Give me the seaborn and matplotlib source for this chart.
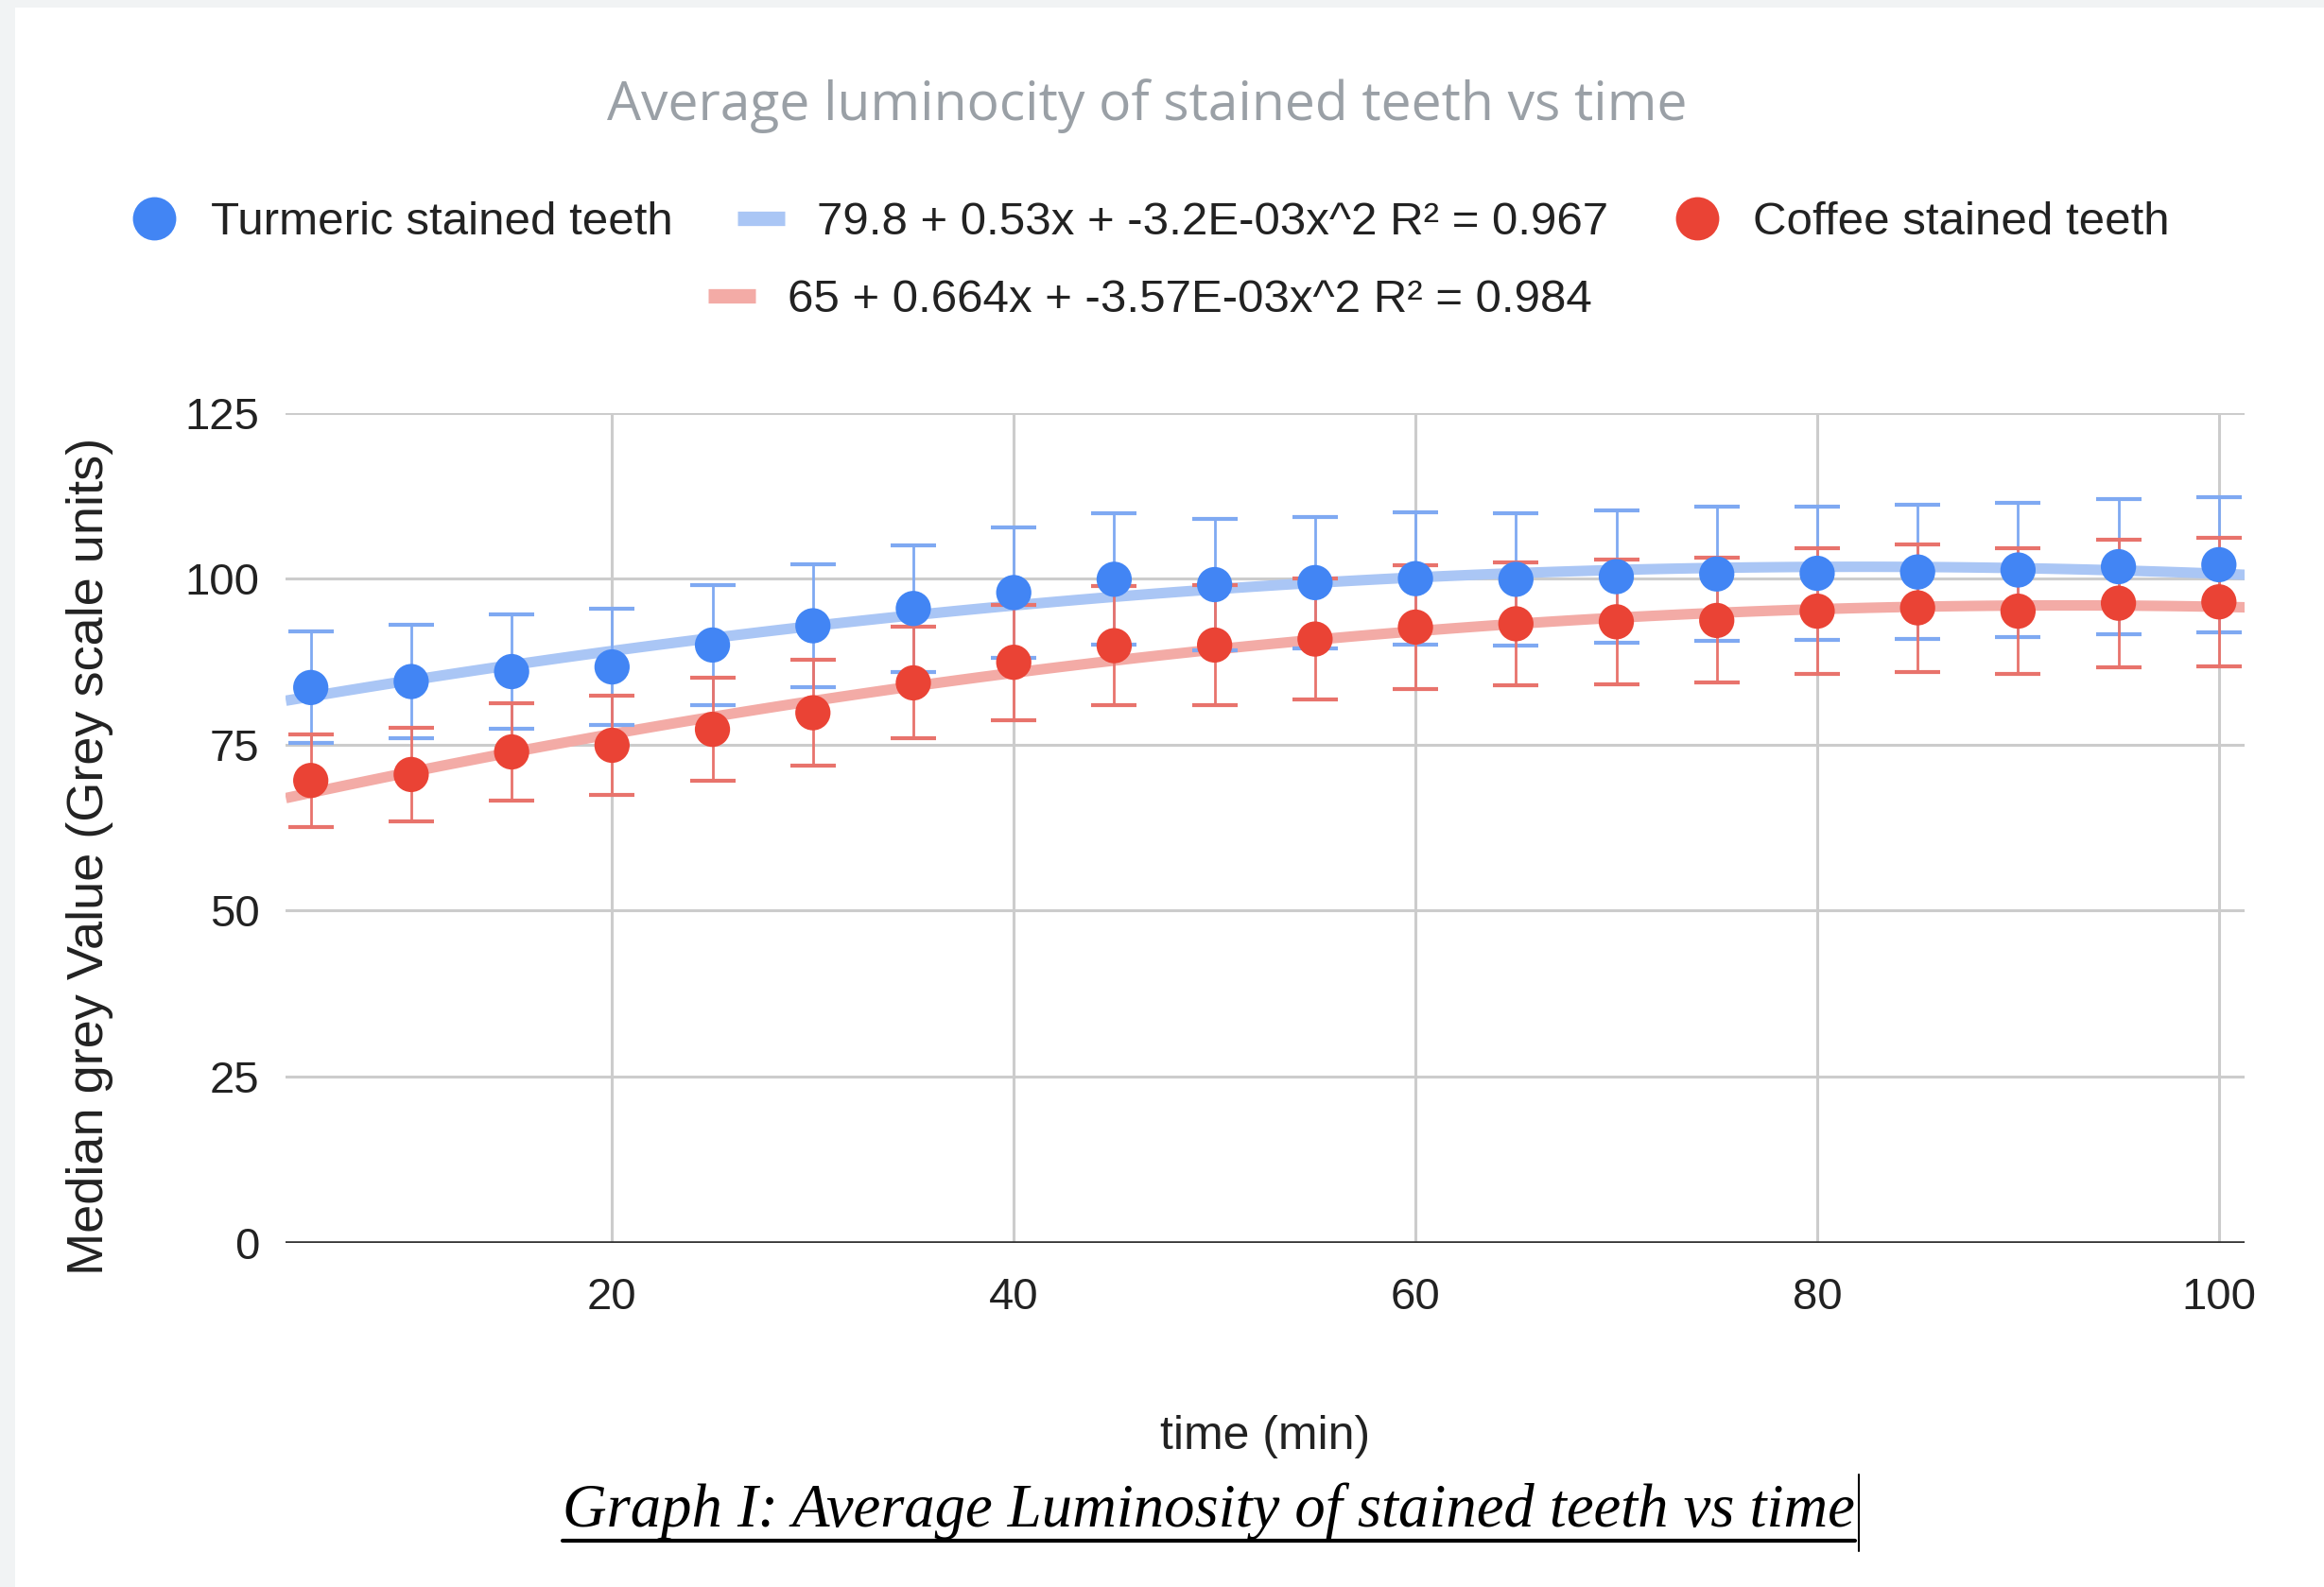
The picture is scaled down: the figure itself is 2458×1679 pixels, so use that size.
import numpy as np
import matplotlib
matplotlib.use("Agg")
import matplotlib.pyplot as plt
import seaborn as sns
from matplotlib.lines import Line2D
from matplotlib.patches import Rectangle

# --- data ---
time_min = [5, 10, 15, 20, 25, 30, 35, 40, 45, 50, 55, 60, 65, 70, 75, 80, 85, 90, 95, 100]
turmeric = [83.6, 84.5, 86.0, 86.7, 90.0, 92.9, 95.5, 97.9, 99.9, 99.1,
            99.4, 100.0, 99.9, 100.3, 100.7, 100.8, 101.0, 101.3, 101.8, 102.1]
coffee = [69.6, 70.5, 73.9, 74.9, 77.3, 79.8, 84.3, 87.4, 89.9, 90.0,
          90.9, 92.7, 93.2, 93.5, 93.7, 95.1, 95.6, 95.1, 96.3, 96.5]
turmeric_err = [8.4, 8.5, 8.6, 8.7, 9.0, 9.3, 9.5, 9.8, 9.9, 9.9,
                9.9, 10.0, 10.0, 10.0, 10.1, 10.1, 10.1, 10.1, 10.2, 10.2]
coffee_err = [7.0, 7.1, 7.4, 7.5, 7.8, 8.0, 8.4, 8.7, 9.0, 9.0,
              9.1, 9.3, 9.3, 9.4, 9.4, 9.5, 9.6, 9.5, 9.6, 9.7]

x_ticks = [20, 40, 60, 80, 100]
y_ticks = [0, 25, 50, 75, 100, 125]

title = "Average luminocity of stained teeth vs time"
labels = ["Turmeric stained teeth",
          "79.8 + 0.53x + -3.2E-03x^2 R² = 0.967",
          "Coffee stained teeth",
          "65 + 0.664x + -3.57E-03x^2 R² = 0.984"]
caption = "Graph I: Average Luminosity of stained teeth vs time"

# --- colours ---
BLUE = "#4285F4"
RED = "#EA4335"
BLUE_TREND = "#AAC6F5"
RED_TREND = "#F3ABA6"
BLUE_ERR = "#7FA9F2"
RED_ERR = "#E8736C"

sns.set_theme(style="white")
plt.rcParams['font.family'] = ['Liberation Sans', 'DejaVu Sans']

fig = plt.figure(figsize=(24.58, 16.79), dpi=100)
fig.patch.set_facecolor("#F1F3F4")
fig.add_artist(Rectangle((16 / 2458, 0), 1, 1 - 8 / 1679, transform=fig.transFigure,
                         facecolor="white", edgecolor="none", zorder=-5))

ax = fig.add_axes([0.123, 0.217, 0.843, 0.523])
ax.set_facecolor("white")
ax.set_xlim(3.76, 101.3)
ax.set_ylim(0, 125)

# trendlines (2nd order polynomial fit)
sns.regplot(x=time_min, y=turmeric, order=2, ci=None, scatter=False, truncate=False, ax=ax,
            color=BLUE_TREND, line_kws=dict(lw=8, zorder=2, solid_capstyle="butt"))
sns.regplot(x=time_min, y=coffee, order=2, ci=None, scatter=False, truncate=False, ax=ax,
            color=RED_TREND, line_kws=dict(lw=8, zorder=2, solid_capstyle="butt"))

# error bars
ax.errorbar(time_min, turmeric, yerr=turmeric_err, fmt="none", ecolor=BLUE_ERR,
            elinewidth=2, capsize=17, capthick=3, zorder=3)
ax.errorbar(time_min, coffee, yerr=coffee_err, fmt="none", ecolor=RED_ERR,
            elinewidth=2, capsize=17, capthick=3, zorder=3)

# points
sns.scatterplot(x=time_min, y=turmeric, color=BLUE, s=720, edgecolor="none", ax=ax, zorder=4)
sns.scatterplot(x=time_min, y=coffee, color=RED, s=720, edgecolor="none", ax=ax, zorder=4)

ax.set_xlim(3.76, 101.3)
ax.set_ylim(0, 125)
ax.set_xticks(x_ticks)
ax.set_yticks(y_ticks)
ax.grid(True, color="#CCCCCC", lw=2.2)
ax.set_axisbelow(True)
ax.axhline(0, color="#333333", lw=2.6, zorder=2.5)
for s in ax.spines.values():
    s.set_visible(False)
ax.tick_params(axis="both", length=0, labelsize=34, colors="#222222")
ax.tick_params(axis="y", pad=20)
ax.tick_params(axis="x", pad=26)

ax.set_xlabel("time (min)", fontsize=36, color="#222222", va="center")
ax.xaxis.set_label_coords(0.5, -0.234)
ax.set_ylabel("Median grey Value (Grey scale units)", fontsize=39, color="#222222", va="center")
ax.yaxis.set_label_coords(-0.100, 0.466)

# title
fig.text(0.4936, 1 - 112 / 1679, title, ha="center", va="center", fontsize=41,
         color="#9AA0A6", family=["Open Sans", "DejaVu Sans"])

# legend, two centred rows
h_turm = Line2D([], [], marker="o", ls="none", color=BLUE, markersize=33, markeredgewidth=0)
h_tt = Line2D([], [], color=BLUE_TREND, lw=11, solid_capstyle="butt")
h_cof = Line2D([], [], marker="o", ls="none", color=RED, markersize=33, markeredgewidth=0)
h_ct = Line2D([], [], color=RED_TREND, lw=11, solid_capstyle="butt")
leg_kw = dict(loc="center", frameon=False, fontsize=35.5, handlelength=1.0,
              handletextpad=0.7, columnspacing=1.4, labelcolor="#222222")
fig.legend(handles=[h_turm, h_tt, h_cof], labels=labels[:3], ncol=3,
           bbox_to_anchor=(0.495, 1 - 236 / 1679), **leg_kw)
fig.legend(handles=[h_ct], labels=labels[3:], ncol=1,
           bbox_to_anchor=(0.495, 1 - 318 / 1679), **leg_kw)

# caption below the chart, underlined, with a text cursor
cap = fig.text(0.520, 1 - 1599 / 1679, caption, ha="center", va="center", fontsize=46.5,
               style="italic", color="black", family=["Liberation Serif", "DejaVu Serif"])
fig.canvas.draw()
bb = cap.get_window_extent().transformed(fig.transFigure.inverted())
y_ul = 1 - 1630 / 1679
fig.add_artist(Line2D([bb.x0, bb.x1], [y_ul, y_ul], color="black", lw=3,
                      transform=fig.transFigure))
fig.add_artist(Line2D([bb.x1 + 0.002, bb.x1 + 0.002], [1 - 1641 / 1679, 1 - 1560 / 1679],
                      color="black", lw=1.5, transform=fig.transFigure))

fig.savefig("out.png", dpi=100)
